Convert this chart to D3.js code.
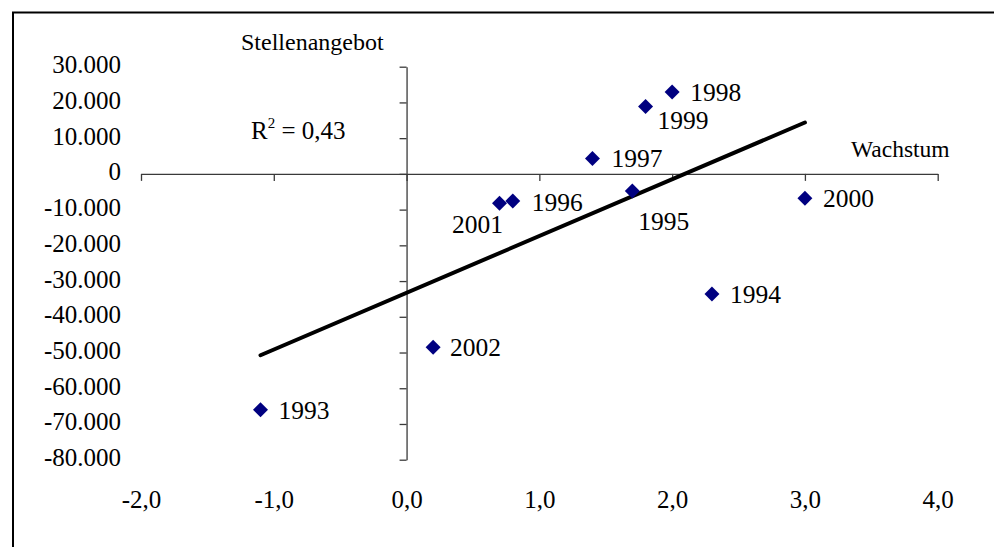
<!DOCTYPE html>
<html>
<head>
<meta charset="utf-8">
<script src="https://cdn.jsdelivr.net/npm/d3@7"></script>
<style>
  html, body { margin: 0; padding: 0; background: #fff; }
  svg { display: block; }
  text { font-family: "Liberation Serif", "Times New Roman", serif; fill: #000; }
</style>
</head>
<body>
<svg id="chart" width="994" height="547"></svg>
<script>
// ---- data ----
const years  = [1993, 1994, 1995, 1996, 1997, 1998, 1999, 2000, 2001, 2002];
const growth = [-1.1, 2.3, 1.7, 0.8, 1.4, 2.0, 1.8, 3.0, 0.7, 0.2];
const jobs   = [-66000, -33600, -4800, -7600, 4300, 22900, 18850, -6800, -8200, -48500];
const xTicks = [-2, -1, 0, 1, 2, 3, 4];
const yTicks = [30000, 20000, 10000, 0, -10000, -20000, -30000, -40000, -50000, -60000, -70000, -80000];
const xTitle = "Wachstum";
const yTitle = "Stellenangebot";
const r2Label = "0,43";

// ---- layout (label placement per point) ----
const labelPlacement = {
  1993: {dx: 18, dy: 9, anchor: "start"},
  1994: {dx: 18, dy: 9, anchor: "start"},
  1995: {dx: 6, dy: 39, anchor: "start"},
  1996: {dx: 19, dy: 9.5, anchor: "start"},
  1997: {dx: 19, dy: 8, anchor: "start"},
  1998: {dx: 18, dy: 8.5, anchor: "start"},
  1999: {dx: 12, dy: 22, anchor: "start"},
  2000: {dx: 18, dy: 8.5, anchor: "start"},
  2001: {dx: 3.5, dy: 30, anchor: "end"},
  2002: {dx: 17, dy: 8.5, anchor: "start"}
};

const serif = '"Liberation Serif", "Times New Roman", serif';
const points = years.map((y, i) => ({year: y, x: growth[i], y: jobs[i]}));

const svg = d3.select("#chart");

// outer frame (extends past right/bottom edges)
svg.append("rect")
  .attr("x", 13).attr("y", 12.5)
  .attr("width", 1000).attr("height", 560)
  .attr("fill", "none").attr("stroke", "#000").attr("stroke-width", 2);

const x = d3.scaleLinear().domain([-2, 4]).range([141, 937.7]);
const y = d3.scaleLinear().domain([-80000, 30000]).range([459.7, 66.7]);

const loc = d3.formatLocale({decimal: ",", thousands: ".", grouping: [3], currency: ["", " €"], minus: "-"});
const fx = loc.format(".1f");
const fy = loc.format(",.0f");

const axisColor = "#3a3a3a";

// x axis at y = 0
const gx = svg.append("g")
  .attr("transform", `translate(0,${y(0)})`)
  .call(d3.axisBottom(x).tickValues(xTicks).tickSize(7).tickSizeOuter(0).tickFormat(fx))
  .attr("font-family", serif).attr("font-size", 25);
gx.select(".domain").attr("stroke", axisColor).attr("stroke-width", 1.3);
gx.selectAll(".tick line").attr("stroke", axisColor).attr("stroke-width", 1.3);
gx.selectAll(".tick text")
  .attr("y", 508 - y(0)).attr("dy", 0)
  .style("font-family", serif)
  .style("font-size", "25px").attr("fill", "#000");

// y axis at x = 0
const gy = svg.append("g")
  .attr("transform", `translate(${x(0)},0)`)
  .call(d3.axisLeft(y).tickValues(yTicks).tickSize(7).tickSizeOuter(0).tickFormat(fy))
  .attr("font-family", serif).attr("font-size", 25);
gy.select(".domain").attr("stroke", axisColor).attr("stroke-width", 1.3);
gy.selectAll(".tick line").attr("stroke", axisColor).attr("stroke-width", 1.3);
gy.selectAll(".tick text")
  .attr("x", 121 - x(0)).attr("dy", 6).attr("text-anchor", "end")
  .style("font-family", serif)
  .style("font-size", "25px").attr("fill", "#000");

// axis titles
svg.append("text").attr("x", 241).attr("y", 49.5)
  .style("font-size", "24px").text(yTitle);
svg.append("text").attr("x", 851).attr("y", 156.7)
  .style("font-size", "23.5px").text(xTitle);

// linear regression trend line
const mx = d3.mean(growth), my = d3.mean(jobs);
const sxy = d3.sum(growth.map((g, i) => (g - mx) * (jobs[i] - my)));
const sxx = d3.sum(growth.map(g => (g - mx) ** 2));
const slope = sxy / sxx, intercept = my - slope * mx;
const [xmin, xmax] = d3.extent(growth);
svg.append("line")
  .attr("x1", x(xmin)).attr("y1", y(intercept + slope * xmin))
  .attr("x2", x(xmax)).attr("y2", y(intercept + slope * xmax))
  .attr("stroke", "#000").attr("stroke-width", 4).attr("stroke-linecap", "round");

// R² text
const r2 = svg.append("text").attr("x", 251).attr("y", 138.5).style("font-size", "25px");
r2.append("tspan").text("R");
r2.append("tspan").attr("dy", -11).style("font-size", "15px").text("2");
r2.append("tspan").attr("dy", 11).text(" = " + r2Label);

// points (diamonds)
const sym = d3.symbol().type(d3.symbolSquare).size(112);
svg.append("g").selectAll("path").data(points).join("path")
  .attr("d", sym)
  .attr("transform", d => `translate(${x(d.x)},${y(d.y)}) rotate(45)`)
  .attr("fill", "#000080");

// point labels
svg.append("g").selectAll("text").data(points).join("text")
  .attr("x", d => x(d.x) + labelPlacement[d.year].dx)
  .attr("y", d => y(d.y) + labelPlacement[d.year].dy)
  .attr("text-anchor", d => labelPlacement[d.year].anchor)
  .style("font-size", "25.5px")
  .text(d => d.year);
</script>
</body>
</html>
